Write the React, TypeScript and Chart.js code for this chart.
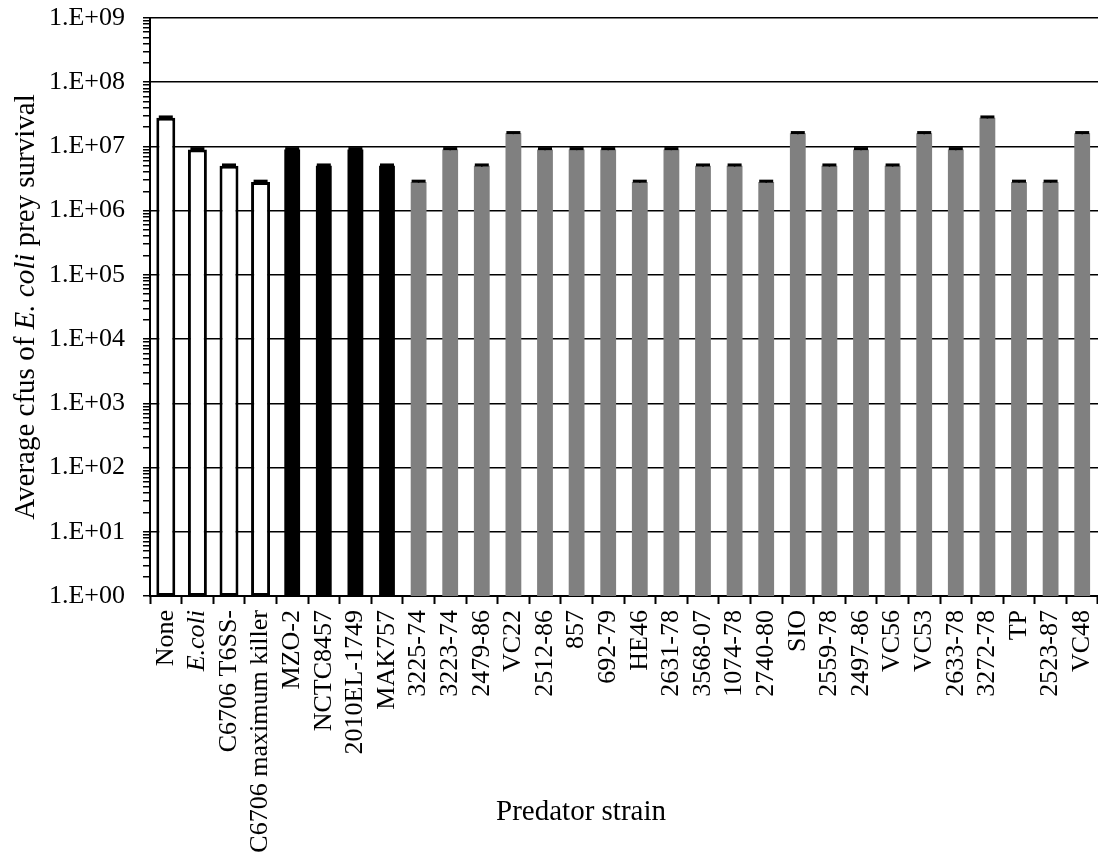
import React, { useEffect, useRef } from "react";
import { Chart, registerables } from "chart.js";

Chart.register(...registerables);

// Predator strains along the x axis
const strains = [
  "None", "E.coli", "C6706 T6SS-", "C6706 maximum killer",
  "MZO-2", "NCTC8457", "2010EL-1749", "MAK757",
  "3225-74", "3223-74", "2479-86", "VC22", "2512-86", "857", "692-79", "HE46",
  "2631-78", "3568-07", "1074-78", "2740-80", "SIO", "2559-78", "2497-86", "VC56",
  "VC53", "2633-78", "3272-78", "TP", "2523-87", "VC48",
];

// Average surviving E. coli prey (cfu)
const survival = [
  2.8e7, 9e6, 5e6, 2.8e6,
  9e6, 5e6, 9e6, 5e6,
  2.8e6, 9e6, 5e6, 1.6e7, 9e6, 9e6, 9e6, 2.8e6,
  9e6, 5e6, 5e6, 2.8e6, 1.6e7, 5e6, 9e6, 5e6,
  1.6e7, 9e6, 2.8e7, 2.8e6, 2.8e6, 1.6e7,
];

// Standard error of each mean (cfu)
const errors = [
  8e5, 2.5e5, 1.5e5, 8e4,
  2.5e5, 1.5e5, 2.5e5, 1.5e5,
  8e4, 2.5e5, 1.5e5, 4.5e5, 2.5e5, 2.5e5, 2.5e5, 8e4,
  2.5e5, 1.5e5, 1.5e5, 8e4, 4.5e5, 1.5e5, 2.5e5, 1.5e5,
  4.5e5, 2.5e5, 8e5, 8e4, 8e4, 4.5e5,
];

// Strain group: 0 = controls, 1 = clinical isolates, 2 = environmental isolates
const groups = [
  0, 0, 0, 0,
  1, 1, 1, 1,
  2, 2, 2, 2, 2, 2, 2, 2,
  2, 2, 2, 2, 2, 2, 2, 2,
  2, 2, 2, 2, 2, 2,
];

// Decade tick labels on the log axis
const decadeLabels = [
  "1.E+00", "1.E+01", "1.E+02", "1.E+03", "1.E+04",
  "1.E+05", "1.E+06", "1.E+07", "1.E+08", "1.E+09",
];

const SERIF = "'Liberation Serif', 'Times New Roman', serif";

const isDecade = (v: number) => {
  const e = Math.round(Math.log10(v));
  return Math.abs(v - Math.pow(10, e)) < 1e-6 * Math.pow(10, e);
};

const pick = (g: number) => survival.map((v, i) => (groups[i] === g ? v : null));

const axisTitles = {
  id: "axisTitles",
  afterDraw(chart: any) {
    const ctx = chart.ctx;
    const area = chart.chartArea;
    ctx.save();
    ctx.fillStyle = "#000";
    // y-axis title with italic species name
    const parts: [string, boolean][] = [
      ["Average cfus of ", false],
      ["E. coli", true],
      [" prey survival", false],
    ];
    const fontFor = (it: boolean) => `${it ? "italic " : ""}29px ${SERIF}`;
    let total = 0;
    const widths = parts.map(([t, it]) => {
      ctx.font = fontFor(it);
      const w = ctx.measureText(t).width;
      total += w;
      return w;
    });
    ctx.translate(34, (area.top + area.bottom) / 2);
    ctx.rotate(-Math.PI / 2);
    ctx.textBaseline = "alphabetic";
    ctx.textAlign = "left";
    let x = -total / 2;
    parts.forEach(([t, it], i) => {
      ctx.font = fontFor(it);
      ctx.fillText(t, x, 0);
      x += widths[i];
    });
    ctx.restore();

    // x-axis title
    ctx.save();
    ctx.fillStyle = "#000";
    ctx.font = `29px ${SERIF}`;
    ctx.textAlign = "center";
    ctx.textBaseline = "alphabetic";
    ctx.fillText("Predator strain", 581, 820);
    ctx.restore();
  },
};

const errorCaps = {
  id: "errorCaps",
  afterDatasetsDraw(chart: any) {
    const ctx = chart.ctx;
    const xs = chart.scales.x;
    const ys = chart.scales.y;
    ctx.save();
    ctx.strokeStyle = "#000";
    survival.forEach((v, i) => {
      const x = xs.getPixelForValue(i);
      const yTop = ys.getPixelForValue(v + errors[i]);
      const yBot = ys.getPixelForValue(v - errors[i]);
      ctx.lineWidth = 1.5;
      ctx.beginPath();
      ctx.moveTo(x, yBot);
      ctx.lineTo(x, yTop);
      ctx.stroke();
      ctx.lineWidth = 3;
      ctx.beginPath();
      ctx.moveTo(x - 7, yTop);
      ctx.lineTo(x + 7, yTop);
      ctx.stroke();
    });
    ctx.restore();
  },
};

export default function App() {
  const canvasRef = useRef<HTMLCanvasElement | null>(null);

  useEffect(() => {
    if (!canvasRef.current) return;
    const chart = new Chart(canvasRef.current, {
      type: "bar",
      data: {
        labels: strains,
        datasets: [
          {
            label: "Controls",
            data: pick(0),
            backgroundColor: "#ffffff",
            borderColor: "#000000",
            borderWidth: 3,
            borderSkipped: false,
            barPercentage: 0.6,
            categoryPercentage: 1,
            grouped: false,
          },
          {
            label: "Clinical",
            data: pick(1),
            backgroundColor: "#000000",
            borderWidth: 0,
            barPercentage: 0.5,
            categoryPercentage: 1,
            grouped: false,
          },
          {
            label: "Environmental",
            data: pick(2),
            backgroundColor: "#808080",
            borderWidth: 0,
            barPercentage: 0.5,
            categoryPercentage: 1,
            grouped: false,
          },
        ] as any,
      },
      options: {
        animation: false,
        responsive: false,
        maintainAspectRatio: false,
        layout: { padding: { top: 18, right: 0, bottom: 0, left: 0 } },
        plugins: {
          legend: { display: false },
          tooltip: { enabled: false },
        },
        scales: {
          x: {
            type: "category",
            offset: true,
            grid: {
              offset: true,
              drawOnChartArea: false,
              drawTicks: true,
              tickLength: 8,
              tickColor: "#000",
              tickWidth: 2,
            },
            border: { display: true, color: "#000", width: 2 },
            ticks: {
              autoSkip: false,
              minRotation: 90,
              maxRotation: 90,
              padding: 6,
              color: "#000",
              font: (c: any) => ({
                family: SERIF,
                size: 26,
                style: c.index === 1 ? "italic" : "normal",
              }),
            },
            afterFit: (s: any) => {
              s.height = 267;
              s.paddingLeft = 0;
              s.paddingRight = 0;
            },
          },
          y: {
            type: "logarithmic",
            min: 1,
            max: 1e9,
            afterBuildTicks: (s: any) => {
              const t: { value: number }[] = [];
              for (let e = 0; e <= 9; e++) {
                t.push({ value: Math.pow(10, e) });
                if (e < 9) for (let m = 2; m <= 9; m++) t.push({ value: m * Math.pow(10, e) });
              }
              s.ticks = t;
            },
            grid: {
              color: (c: any) => (c.tick && isDecade(c.tick.value) ? "#000" : "rgba(0,0,0,0)"),
              lineWidth: 1.5,
              drawTicks: true,
              tickLength: 7,
              tickColor: "#000",
              tickWidth: 1.5,
            },
            border: { display: true, color: "#000", width: 2 },
            ticks: {
              autoSkip: false,
              padding: 18,
              color: "#000",
              font: { family: SERIF, size: 26 },
              callback: (v: any) => {
                const n = Number(v);
                if (!isDecade(n)) return "";
                return decadeLabels[Math.round(Math.log10(n))];
              },
            },
            afterFit: (s: any) => {
              s.width = 150;
              s.paddingTop = 0;
              s.paddingBottom = 0;
            },
          },
        },
      },
      plugins: [axisTitles, errorCaps],
    });
    return () => chart.destroy();
  }, []);

  return (
    <div style={{ position: "absolute", left: 0, top: 0, width: 1098, height: 863, background: "#fff" }}>
      <canvas ref={canvasRef} width={1098} height={863} style={{ width: 1098, height: 863 }} />
    </div>
  );
}
